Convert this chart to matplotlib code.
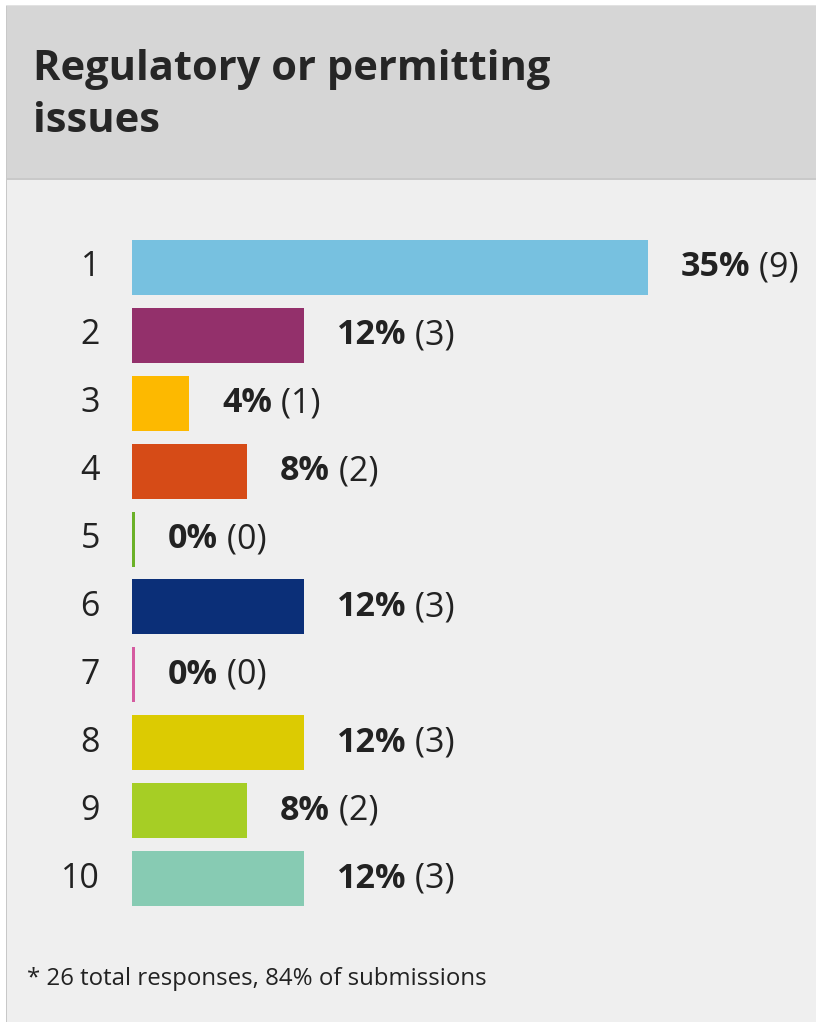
import matplotlib
matplotlib.use("Agg")
import matplotlib.pyplot as plt
from matplotlib.patches import Rectangle

categories = ["1", "2", "3", "4", "5", "6", "7", "8", "9", "10"]
counts = [9, 3, 1, 2, 0, 3, 0, 3, 2, 3]
percents = [35, 12, 4, 8, 0, 12, 0, 12, 8, 12]
colors = ["#77C1E0", "#93306B", "#FDB900", "#D64B17", "#6BB128",
          "#0B2F78", "#D55BA0", "#DCCB02", "#A6CE25", "#87CBB3"]
title = "Regulatory or permitting\nissues"
footnote = "* 26 total responses, 84% of submissions"

W, H = 816, 1022
fig = plt.figure(figsize=(W / 100, H / 100), dpi=100)
fig.patch.set_facecolor("white")

def px(x0, y0, w, h, **kw):
    fig.patches.append(Rectangle((x0 / W, 1 - (y0 + h) / H), w / W, h / H,
                                 transform=fig.transFigure, zorder=-10, **kw))

# panel backgrounds
px(6, 5, W - 6, H - 5, facecolor="#EFEFEF", edgecolor="none")
px(6, 5, W - 6, 174, facecolor="#D6D6D6", edgecolor="none")
px(6, 178, W - 6, 2, facecolor="#C9C9C9", edgecolor="none")
px(6, 5, 1.2, H - 5, facecolor="#C8C8C8", edgecolor="none")
px(6, 5, W - 6, 1.2, facecolor="#E2E2E2", edgecolor="none")

fam = ["Open Sans", "DejaVu Sans"]
line1, line2 = title.split("\n")
fig.text(33 / W, 1 - 80 / H, line1, fontsize=30, fontweight="bold",
         color="#262626", family=fam, va="baseline", ha="left")
fig.text(33 / W, 1 - 132 / H, line2, fontsize=30, fontweight="bold",
         color="#262626", family=fam, va="baseline", ha="left")
fig.text(27 / W, 1 - 985 / H, footnote, fontsize=17.3, color="#222222",
         family=fam, va="baseline", ha="left")

# bar axes
pxcount = 57.33
left = 132
top_c, step = 267.5, 67.9
ax = fig.add_axes([left / W, 0, (W - left) / W, 1])
ax.set_xlim(0, (W - left) / pxcount)
ymin = -top_c / step          # pixel 0
ymax = (H - top_c) / step     # pixel H
ax.set_ylim(ymax, ymin)
ax.axis("off")
ax.patch.set_alpha(0)

ypos = list(range(len(categories)))
widths = [c if c > 0 else 3 / pxcount for c in counts]
ax.barh(ypos, widths, height=55 / step, color=colors, edgecolor="none")

fs = 24.5
for i, (cat, c, p, w) in enumerate(zip(categories, counts, percents, widths)):
    ax.annotate(cat, xy=(0, i), xytext=(-32, 0), textcoords="offset pixels",
                ha="right", va="center", fontsize=fs, color="#222222", family=fam)
    t = ax.annotate(f"{p}%", xy=(w, i), xytext=(33, 0), textcoords="offset pixels",
                    ha="left", va="center", fontsize=fs, fontweight="bold",
                    color="#222222", family=fam)
    ax.annotate(f" ({c})", xy=(1, 0.5), xycoords=t, ha="left", va="center",
                fontsize=fs, color="#222222", family=fam)

fig.savefig("out.png", dpi=100, facecolor=fig.get_facecolor())
